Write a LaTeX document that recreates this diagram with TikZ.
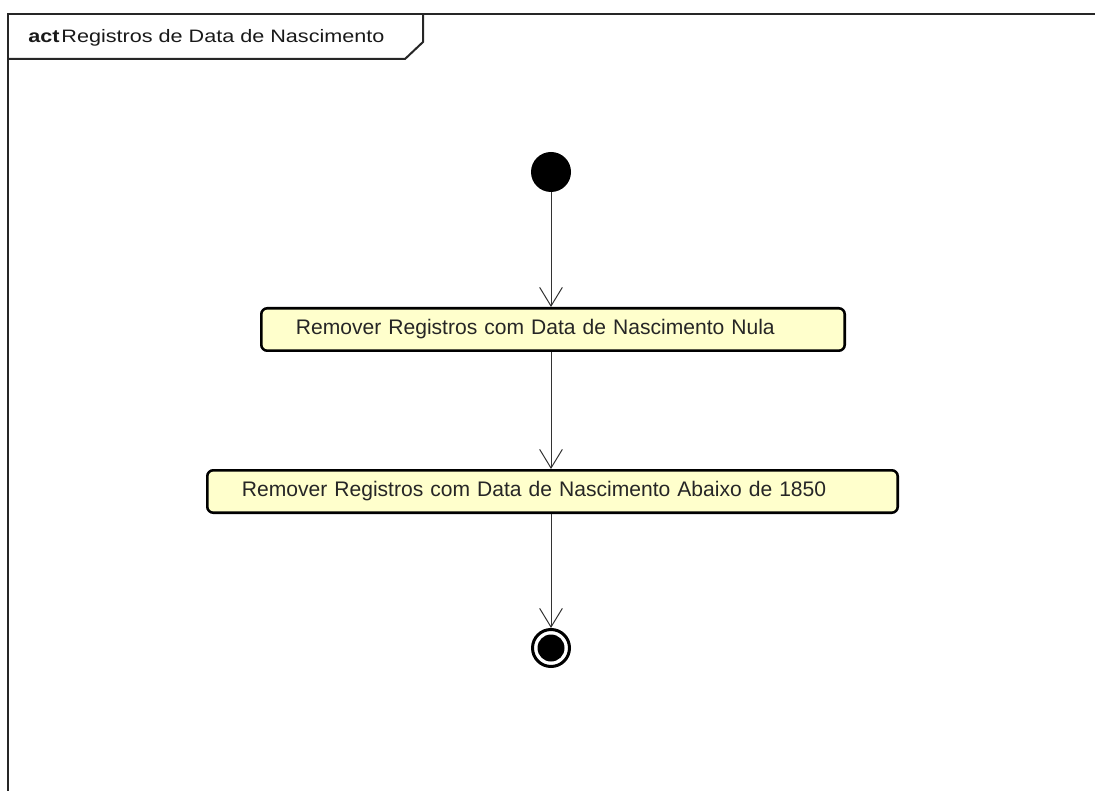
\documentclass[tikz,border=0pt]{standalone}
\usepackage{fontspec}
\setmainfont{Liberation Sans}
\newfontfamily\titlefont{Liberation Sans}[FakeStretch=1.2]
\usetikzlibrary{arrows.meta}
\definecolor{actfill}{RGB}{255,255,204}

\begin{document}
\begin{tikzpicture}[x=0.75pt, y=-0.75pt,
		frame/.style={draw=black!85, line width=1.5pt},
		initnode/.style={circle, fill=black, inner sep=0pt, minimum size=30pt},
		finalnode/.style={circle, draw=black, line width=2.25pt, inner sep=0pt, minimum size=27.75pt},
		finaldot/.style={circle, fill=black, inner sep=0pt, minimum size=20.25pt},
		actbox/.style={rectangle, rounded corners=4.5pt, draw=black, fill=actfill, line width=1.9pt, minimum height=31.85pt, inner xsep=26pt, align=left, text=black!85, font=\fontsize{15.8pt}{19pt}\selectfont},
		flow/.style={draw=black!80, line width=0.75pt, -{Straight Barb[length=14pt,width=17pt]}}]
		\useasboundingbox (0,0) rectangle (1095,791);
		% frame with tab
		\draw[frame] (8,800) -- (8,14) -- (1100,14);
		\draw[frame] (8,59) -- (405,59) -- (423,42) -- (423,14);
		\node[anchor=base west, inner sep=0pt, text=black!90, font=\titlefont\fontsize{13.5pt}{16pt}\selectfont] (title) at (28,43) {\textbf{act}\kern1.5pt Registros de Data de Nascimento};
		
		\node[initnode] (init) at (551,172) {};
		\node[actbox, text width=385.6pt] (remnull) at (553,329.5) {Remover Registros com Data de Nascimento Nula};
		\node[actbox, text width=465.85pt] (rem1850) at (552.5,491.5) {Remover Registros com Data de Nascimento Abaixo de 1850};
		\node[finalnode] (final) at (551,648) {};
		\node[finaldot] (finaldot) at (final) {};
		
		\path (init) edge[flow] (init |- remnull.north);
		\path (init |- remnull.south) edge[flow] (init |- rem1850.north);
		\path (final |- rem1850.south) edge[flow] (final);
		
	\end{tikzpicture}
\end{document}
